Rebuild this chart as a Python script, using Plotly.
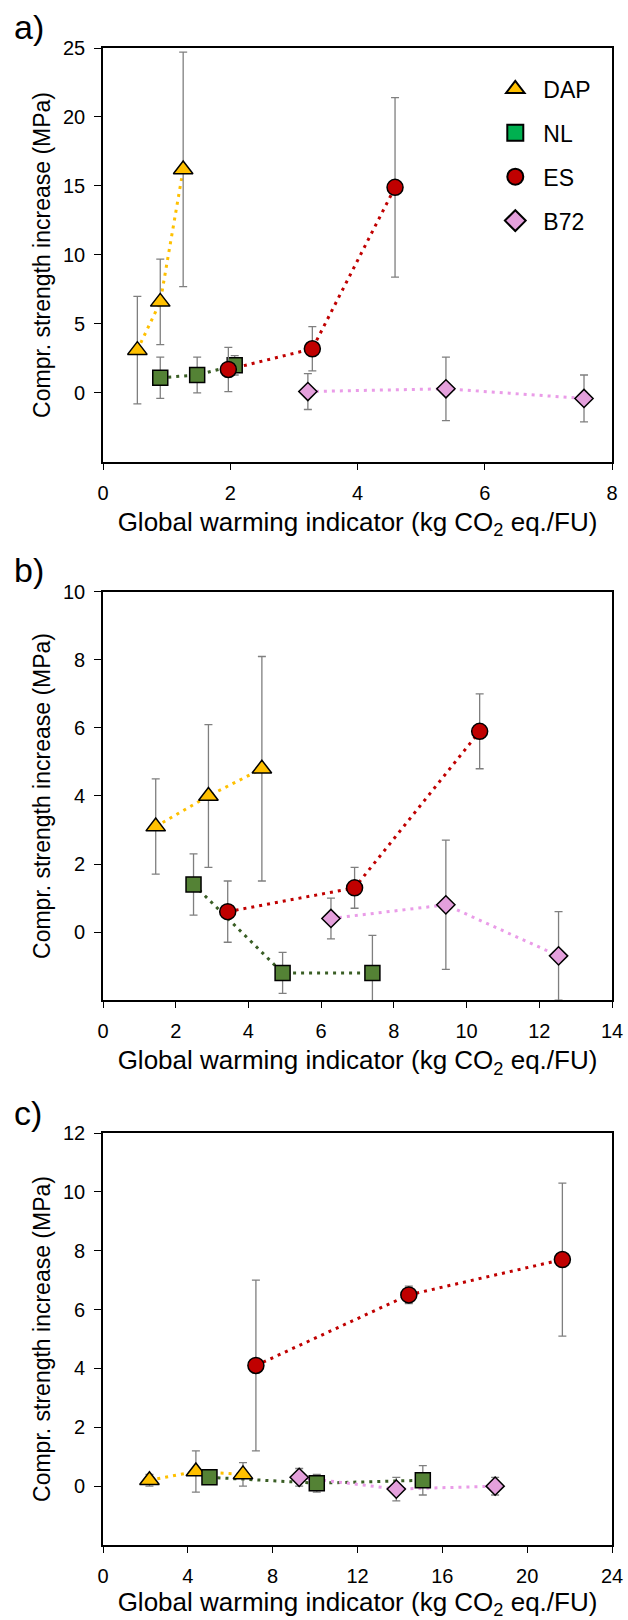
import plotly.graph_objects as go

# ---------------- data ----------------
series = ["DAP", "NL", "ES", "B72"]

# panel a
a_DAP_x = [0.54, 0.90, 1.26]; a_DAP_y = [3.1, 6.6, 16.2]; a_DAP_e = [3.9, 3.1, 8.5]
a_NL_x = [0.90, 1.48, 2.07];  a_NL_y = [1.1, 1.3, 2.0];   a_NL_e = [1.5, 1.3, 0.7]
a_ES_x = [1.97, 3.29, 4.59];  a_ES_y = [1.7, 3.2, 14.9];  a_ES_e = [1.6, 1.6, 6.5]
a_B72_x = [3.22, 5.39, 7.56]; a_B72_y = [0.1, 0.3, -0.4]; a_B72_e = [1.3, 2.3, 1.7]

# panel b
b_DAP_x = [1.45, 2.90, 4.37]; b_DAP_y = [3.1, 4.0, 4.8];   b_DAP_e = [1.4, 2.1, 3.3]
b_NL_x = [2.49, 4.94, 7.41];  b_NL_y = [1.4, -1.2, -1.2];  b_NL_e = [0.9, 0.6, 1.1]
b_ES_x = [3.43, 6.92, 10.36]; b_ES_y = [0.6, 1.3, 5.9];    b_ES_e = [0.9, 0.6, 1.1]
b_B72_x = [6.27, 9.43, 12.53]; b_B72_y = [0.4, 0.8, -0.7]; b_B72_e = [0.6, 1.9, 1.3]

# panel c
c_DAP_x = [2.19, 4.38, 6.60];  c_DAP_y = [0.2, 0.5, 0.4];  c_DAP_e = [0.2, 0.7, 0.4]
c_NL_x = [5.02, 10.08, 15.08]; c_NL_y = [0.3, 0.1, 0.2];   c_NL_e = [0.15, 0.3, 0.5]
c_ES_x = [7.21, 14.42, 21.66]; c_ES_y = [4.1, 6.5, 7.7];   c_ES_e = [2.9, 0.3, 2.6]
c_B72_x = [9.25, 13.83, 18.49]; c_B72_y = [0.3, -0.1, 0.0]; c_B72_e = [0.3, 0.4, 0.3]

panels = {
    "a": {"DAP": (a_DAP_x, a_DAP_y, a_DAP_e), "NL": (a_NL_x, a_NL_y, a_NL_e),
          "ES": (a_ES_x, a_ES_y, a_ES_e), "B72": (a_B72_x, a_B72_y, a_B72_e)},
    "b": {"DAP": (b_DAP_x, b_DAP_y, b_DAP_e), "NL": (b_NL_x, b_NL_y, b_NL_e),
          "ES": (b_ES_x, b_ES_y, b_ES_e), "B72": (b_B72_x, b_B72_y, b_B72_e)},
    "c": {"DAP": (c_DAP_x, c_DAP_y, c_DAP_e), "NL": (c_NL_x, c_NL_y, c_NL_e),
          "ES": (c_ES_x, c_ES_y, c_ES_e), "B72": (c_B72_x, c_B72_y, c_B72_e)},
}

x_ticks = {"a": [0, 2, 4, 6, 8], "b": [0, 2, 4, 6, 8, 10, 12, 14], "c": [0, 4, 8, 12, 16, 20, 24]}
y_ticks = {"a": [0, 5, 10, 15, 20, 25], "b": [0, 2, 4, 6, 8, 10], "c": [0, 2, 4, 6, 8, 10, 12]}
x_ranges = {"a": [0, 8], "b": [0, 14], "c": [0, 24]}
y_ranges = {"a": [-5, 25], "b": [-2, 10], "c": [-2, 12]}

# ---------------- styles ----------------
symbols = {"DAP": "triangle-up", "NL": "square", "ES": "circle", "B72": "diamond"}
fills = {"DAP": "#FFC000", "NL": "#548235", "ES": "#C00000", "B72": "#E4A0DC"}
legend_fills = {"DAP": "#FFC000", "NL": "#00B050", "ES": "#C00000", "B72": "#E4A0DC"}
line_cols = {"DAP": "#FFC000", "NL": "#3A5E25", "ES": "#C00000", "B72": "#EA9CE8"}
sizes = {"DAP": 17, "NL": 15, "ES": 16, "B72": 14}

axis_ids = {"a": ("x", "y"), "b": ("x2", "y2"), "c": ("x3", "y3")}

fig = go.Figure()

for p, data in panels.items():
    xa, ya = axis_ids[p]
    for s in series:
        x, y, e = data[s]
        fig.add_trace(go.Scatter(x=x, y=y, mode="lines", xaxis=xa, yaxis=ya,
                                 line=dict(color=line_cols[s], width=3, dash="3px,5px"),
                                 showlegend=False, hoverinfo="skip"))
    for s in series:
        x, y, e = data[s]
        fig.add_trace(go.Scatter(x=x, y=y, mode="markers", xaxis=xa, yaxis=ya, name=s,
                                 marker=dict(symbol=symbols[s], size=sizes[s], color=fills[s],
                                             line=dict(color="black", width=1.5)),
                                 error_y=dict(type="data", array=e, visible=True,
                                              color="#7F7F7F", thickness=1.3, width=4),
                                 showlegend=False))

# legend-only traces
for s in series:
    fig.add_trace(go.Scatter(x=[None], y=[None], mode="markers", name=s, xaxis="x", yaxis="y",
                             legendgroup=s,
                             marker=dict(symbol=symbols[s], size=20, color=legend_fills[s],
                                         line=dict(color="black", width=2)),
                             showlegend=True))

FONT = "Liberation Sans, Arial, sans-serif"
domains = {"a": [0.7235, 1.0], "b": [0.364, 0.6367], "c": [0.0, 0.2752]}

layout = dict(
    width=628, height=1620,
    margin=dict(l=103, r=16, t=48, b=75),
    paper_bgcolor="white", plot_bgcolor="white",
    font=dict(family=FONT, color="black", size=20),
    showlegend=True,
    legend=dict(x=0.755, y=0.987, xanchor="left", yanchor="top",
                font=dict(size=23, family=FONT), bgcolor="rgba(0,0,0,0)",
                traceorder="grouped", tracegroupgap=11, itemsizing="trace",
                itemwidth=46),
)

xtitle = "Global warming indicator (kg CO<sub>2</sub> eq./FU)"
ytitle = "Compr. strength increase (MPa)"

for p in ["a", "b", "c"]:
    xa, ya = axis_ids[p]
    xkey = "xaxis" + xa[1:]
    ykey = "yaxis" + ya[1:]
    layout[xkey] = dict(domain=[0, 1], anchor=ya, range=x_ranges[p], tickvals=x_ticks[p],
                        showline=True, linecolor="black", linewidth=1.6, mirror=True,
                        ticks="outside", ticklen=6, tickcolor="black", tickwidth=1.2,
                        ticklabelstandoff=6,
                        showgrid=False, zeroline=False, automargin=False,
                        tickfont=dict(size=20, family=FONT),
                        title=dict(text=xtitle, font=dict(size=26, family=FONT), standoff=10))
    layout[ykey] = dict(domain=domains[p], anchor=xa, range=y_ranges[p], tickvals=y_ticks[p],
                        showline=True, linecolor="black", linewidth=1.6, mirror=True,
                        ticks="outside", ticklen=7, tickcolor="black", tickwidth=1.2,
                        ticklabelstandoff=5,
                        showgrid=False, zeroline=False, automargin=False,
                        tickfont=dict(size=20, family=FONT),
                        title=dict(text=ytitle, font=dict(size=23, family=FONT), standoff=6))

fig.update_layout(**layout)

labels = {"a": 1.0138, "b": 0.6512, "c": 0.2885}
for t, yy in labels.items():
    fig.add_annotation(text=t + ")", xref="paper", yref="paper", x=-0.178, y=yy,
                       xanchor="left", yanchor="middle", showarrow=False,
                       font=dict(size=34, family=FONT, color="black"))

fig.write_html("out.html", config={"displayModeBar": False},
               post_script="document.body.style.margin='0';document.body.style.padding='0';")
